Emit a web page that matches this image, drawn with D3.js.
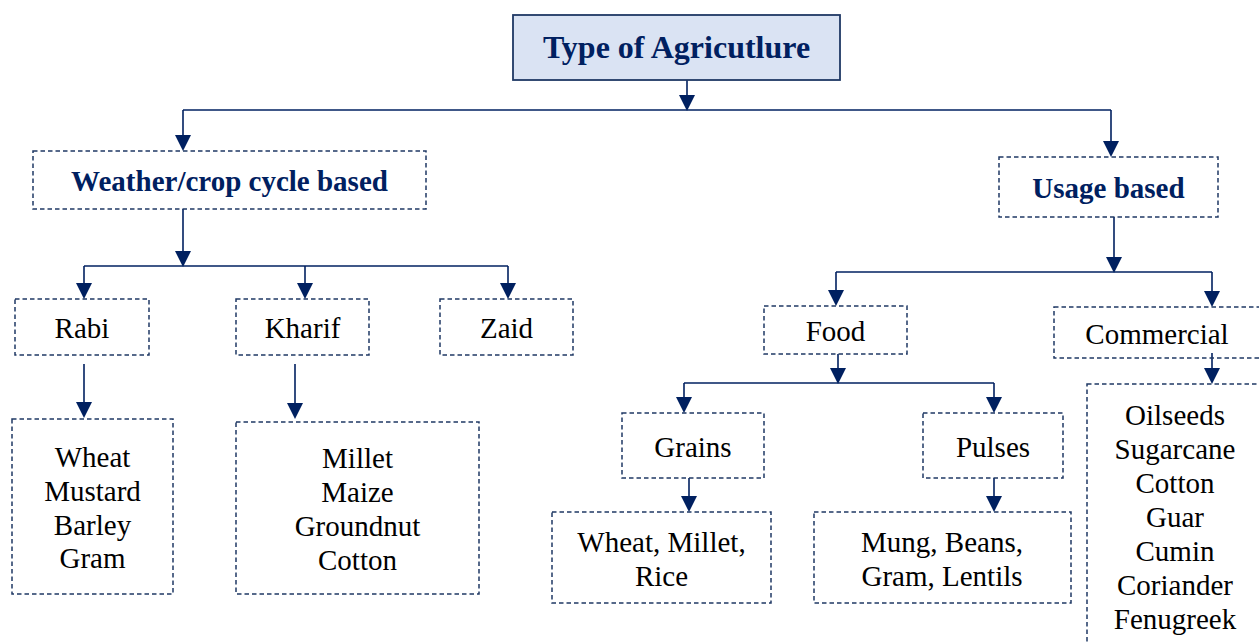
<!DOCTYPE html>
<html>
<head>
<meta charset="utf-8">
<script src="https://cdn.jsdelivr.net/npm/d3@7"></script>
<style>
  html, body { margin: 0; padding: 0; background: #fff; overflow: hidden; }
  svg { display: block; }
</style>
</head>
<body>
<svg id="chart"></svg>
<script>
// tree content
const nodeIds = ['root', 'weather', 'usage', 'rabi', 'kharif', 'zaid', 'rabiCrops', 'kharifCrops',
                 'food', 'commercial', 'grains', 'pulses', 'grainCrops', 'pulseCrops', 'commercialCrops']
const parentIds = [null, 'root', 'root', 'weather', 'weather', 'weather', 'rabi', 'kharif',
                   'usage', 'usage', 'food', 'food', 'grains', 'pulses', 'commercial']
const nodeLabels = [
  ['Type of Agricutlure'],
  ['Weather/crop cycle based'],
  ['Usage based'],
  ['Rabi'],
  ['Kharif'],
  ['Zaid'],
  ['Wheat', 'Mustard', 'Barley', 'Gram'],
  ['Millet', 'Maize', 'Groundnut', 'Cotton'],
  ['Food'],
  ['Commercial'],
  ['Grains'],
  ['Pulses'],
  ['Wheat, Millet,', 'Rice'],
  ['Mung, Beans,', 'Gram, Lentils'],
  ['Oilseeds', 'Sugarcane', 'Cotton', 'Guar', 'Cumin', 'Coriander', 'Fenugreek']
]

// where each box sits on the page
const layout = {
  root:            {x: 513,  y: 15,  w: 327, h: 65,  outX: 687,  busY: 110, ty: 47},
  weather:         {x: 33,   y: 151, w: 393, h: 58,  inX: 183,  outX: 183,  busY: 266},
  usage:           {x: 999,  y: 157, w: 219, h: 60,  inX: 1111, outX: 1114, busY: 272},
  rabi:            {x: 15,   y: 299, w: 134, h: 56,  inX: 84,   outX: 84,   outY: 364},
  kharif:          {x: 236,  y: 299, w: 133, h: 56,  inX: 305,  outX: 295,  outY: 364},
  zaid:            {x: 440,  y: 299, w: 133, h: 56,  inX: 508},
  rabiCrops:       {x: 12,   y: 419, w: 161, h: 175, inX: 84,   tipY: 418},
  kharifCrops:     {x: 236,  y: 422, w: 243, h: 172, inX: 295,  tipY: 419},
  food:            {x: 764,  y: 306, w: 143, h: 48,  inX: 836,  outX: 838,  busY: 383},
  commercial:      {x: 1054, y: 307, w: 212, h: 51,  inX: 1212, outX: 1212, outY: 353, tx: 1157},
  grains:          {x: 622,  y: 413, w: 142, h: 65,  inX: 684,  outX: 689},
  pulses:          {x: 923,  y: 413, w: 140, h: 65,  inX: 994,  outX: 994},
  grainCrops:      {x: 552,  y: 512, w: 219, h: 91,  inX: 689},
  pulseCrops:      {x: 814,  y: 512, w: 257, h: 91,  inX: 994,  tx: 942},
  commercialCrops: {x: 1087, y: 384, w: 200, h: 300, inX: 1212, tx: 1175, ty: 517.5}
}

const width = 1259, height = 643
const navy = '#002060'
const lineColor = '#1f3864'
const serif = '"Liberation Serif", "Times New Roman", serif'
const lineGap = 33.9

const root = d3.stratify()
  .id((d, i) => nodeIds[i])
  .parentId((d, i) => parentIds[i])(nodeLabels)

const svg = d3.select('#chart')
  .attr('width', width)
  .attr('height', height)

const gLinks = svg.append('g')
const gNodes = svg.append('g')

function arrowHead(x, tipY) {
  gLinks.append('path')
    .attr('d', `M${x - 8},${tipY - 16}L${x + 8},${tipY - 16}L${x},${tipY}Z`)
    .attr('fill', navy)
}

function vline(x, y0, y1) {
  gLinks.append('line')
    .attr('x1', x).attr('x2', x)
    .attr('y1', y0).attr('y2', y1)
    .attr('stroke', navy)
    .attr('stroke-width', 1.6)
}

// connectors
root.each(node => {
  if (!node.children) return
  const p = layout[node.id]
  const startY = p.outY !== undefined ? p.outY : p.y + p.h
  if (node.children.length === 1) {
    const c = layout[node.children[0].id]
    const tip = c.tipY !== undefined ? c.tipY : c.y
    vline(p.outX, startY, tip - 4)
    arrowHead(p.outX, tip)
    return
  }
  vline(p.outX, startY, p.busY - 4)
  arrowHead(p.outX, p.busY + 1)
  const xs = node.children.map(c => layout[c.id].inX)
  gLinks.append('line')
    .attr('x1', d3.min(xs)).attr('x2', d3.max(xs))
    .attr('y1', p.busY).attr('y2', p.busY)
    .attr('stroke', navy)
    .attr('stroke-width', 1.6)
  node.children.forEach(c => {
    const b = layout[c.id]
    const tip = b.tipY !== undefined ? b.tipY : b.y
    vline(b.inX, p.busY, tip - 4)
    arrowHead(b.inX, tip)
  })
})

// boxes + labels
const boxes = gNodes.selectAll('g.node')
  .data(root.descendants())
  .join('g')
    .attr('class', 'node')

boxes.append('rect')
  .attr('x', d => layout[d.id].x)
  .attr('y', d => layout[d.id].y)
  .attr('width', d => layout[d.id].w)
  .attr('height', d => layout[d.id].h)
  .attr('fill', d => d.depth === 0 ? '#dae3f3' : 'none')
  .attr('stroke', lineColor)
  .attr('stroke-width', d => d.depth === 0 ? 1.8 : 1.5)
  .attr('stroke-dasharray', d => d.depth === 0 ? null : '4.5,3')

boxes.each(function(d) {
  const b = layout[d.id]
  const lines = d.data
  const fs = d.depth === 0 ? 32 : 29
  const bold = d.depth <= 1
  const cx = b.tx !== undefined ? b.tx : b.x + b.w / 2
  const cy = b.ty !== undefined ? b.ty : b.y + b.h / 2 + 1.5
  const top = cy - (lines.length - 1) * lineGap / 2
  const text = d3.select(this).append('text')
    .attr('text-anchor', 'middle')
    .attr('font-family', serif)
    .attr('font-size', fs)
    .attr('font-weight', bold ? 'bold' : 'normal')
    .attr('fill', bold ? navy : '#000')
  text.selectAll('tspan')
    .data(lines)
    .join('tspan')
      .attr('x', cx)
      .attr('y', (l, i) => top + i * lineGap + fs * 0.33)
      .text(l => l)
})
</script>
</body>
</html>
